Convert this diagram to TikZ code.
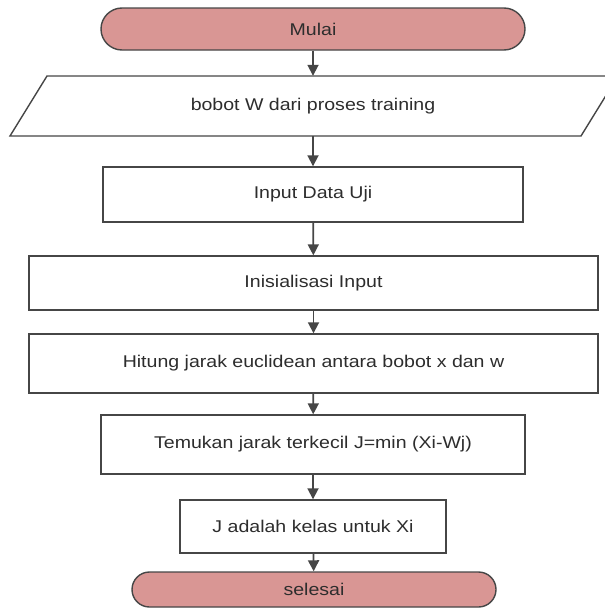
\documentclass[tikz,border=0pt]{standalone}
\usepackage{fontspec}
\setmainfont{Liberation Sans}[FakeStretch=1.15]
\usepackage{tikz}
\usetikzlibrary{arrows.meta}
\definecolor{terminal}{RGB}{217,150,148}
\definecolor{garis}{RGB}{70,70,70}
\definecolor{teks}{RGB}{45,45,45}
\tikzset{
  kotak/.style={draw=garis, line width=1.4pt, fill=white, text=teks,
    font=\fontsize{17}{20}\selectfont, inner sep=0pt},
  ujung/.style={kotak, fill=terminal},
  panah/.style={garis, line width=1.8pt, -{Triangle[width=11pt,length=11pt]}}
}

\begin{document}
\begin{tikzpicture}[x=1pt,y=-1pt]
\clip (0,0) rectangle (605,608);
% terminal awal
\node[ujung, rounded corners=21pt, minimum width=424pt, minimum height=42pt] (mulai) at (313,29) {Mulai};
% input bobot (jajaran genjang)
\draw[draw=garis, line width=1.4pt, fill=white] (10,136) -- (47,76) -- (618,76) -- (581,136) -- cycle;
\node[text=teks, font=\fontsize{17}{20}\selectfont, inner sep=0pt, minimum height=60pt] (bobot) at (313,106) {bobot W dari proses training};
% proses
\node[kotak, minimum width=420pt, minimum height=55pt] (uji) at (313,194.5) {Input Data Uji};
\node[kotak, minimum width=569pt, minimum height=54pt] (inisial) at (313.5,283) {Inisialisasi Input};
\node[kotak, minimum width=569pt, minimum height=59pt] (hitung) at (313.5,363.5) {Hitung jarak euclidean antara bobot x dan w};
\node[kotak, minimum width=424pt, minimum height=59pt] (temukan) at (313,444.5) {Temukan jarak terkecil J=min (Xi-Wj)};
\node[kotak, minimum width=266pt, minimum height=53pt] (kelas) at (313,526.5) {J adalah kelas untuk Xi};
% terminal akhir
\node[ujung, rounded corners=17.5pt, minimum width=364pt, minimum height=35pt] (selesai) at (314,589.5) {selesai};
% panah
\draw[panah] (mulai) -- (bobot);
\draw[panah] (bobot) -- (uji);
\draw[panah] (uji) -- (inisial);
\draw[panah] (inisial) -- (hitung);
\draw[panah] (hitung) -- (temukan);
\draw[panah] (temukan) -- (kelas);
\draw[panah] (kelas) -- (selesai);
\end{tikzpicture}
\end{document}
